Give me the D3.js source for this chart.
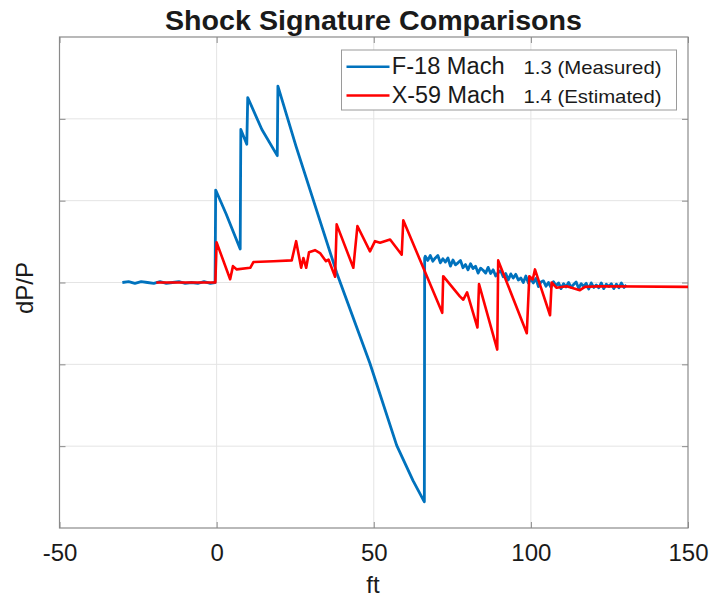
<!DOCTYPE html>
<html>
<head>
<meta charset="utf-8">
<script src="https://cdn.jsdelivr.net/npm/d3@7"></script>
<style>
  html, body { margin: 0; padding: 0; background: #fff; }
  svg text { font-family: "Liberation Sans", Arial, Helvetica, sans-serif; fill: #1a1a1a; }
</style>
</head>
<body>
<svg id="chart" width="713" height="598"></svg>
<script>
// ---------------- data ----------------
const xTicks = [-50, 0, 50, 100, 150];
const xTickLabels = ["-50", "0", "50", "100", "150"];
const yTicks = [-2, -1, 0, 1, 2];

// F-18 Mach 1.3 (Measured): ft
const f18X = [-30, -28, -26, -24, -22, -20, -18, -16, -14, -12, -10, -8, -6, -4, -2, -0.5,
  -0.3, 3.0, 5.2, 7.5, 7.7, 9.6, 9.9, 14.4, 19.3, 19.5, 25.3, 38.2, 48.8, 57.3, 62.5, 66.1,
  66.2,
  66.4, 67.2, 68.0, 68.8, 69.6, 70.4, 71.2, 72.0, 72.8, 73.6,
  74.4, 75.2, 76.0, 76.8, 77.6, 78.4, 79.2, 80.0, 80.8, 81.6,
  82.4, 83.2, 84.0, 84.8, 85.6, 86.4, 87.2, 88.0, 88.8, 89.6,
  90.4, 91.2, 92.0, 92.8, 93.6, 94.4, 95.2, 96.0, 96.8, 97.6,
  98.4, 99.2, 100.0, 100.8, 101.6, 102.4, 103.2, 104.0, 104.8, 105.6,
  106.4, 107.2, 108.0, 108.8, 109.6, 110.4, 111.2, 112.0, 112.8, 113.6,
  114.4, 115.2, 116.0, 116.8, 117.6, 118.4, 119.2, 120.0, 120.8, 121.6,
  122.4, 123.2, 124.0, 124.8, 125.6, 126.4, 127.2, 128.0, 128.8, 129.6,
  130.4];
// F-18 dP/P (grid units)
const f18Y = [0.0, 0.01, -0.01, 0.01, 0.0, -0.01, 0.01, -0.01, 0.0, 0.01, -0.01, 0.0, -0.01, 0.01, -0.01, 0.0,
  1.13, 0.84, 0.63, 0.41, 1.87, 1.69, 2.26, 1.87, 1.55, 2.40, 1.66, 0.12, -0.99, -1.99, -2.42, -2.68,
  0.30,
  0.32, 0.27, 0.33, 0.26, 0.30, 0.33, 0.24, 0.29, 0.25, 0.30,
  0.20, 0.275, 0.215, 0.24, 0.27, 0.18, 0.22, 0.155, 0.23, 0.17,
  0.20, 0.115, 0.175, 0.15, 0.115, 0.185, 0.11, 0.155, 0.08, 0.12,
  0.145, 0.07, 0.11, 0.03, 0.105, 0.055, 0.10, 0.03, 0.055, 0.00,
  0.08, -0.005, 0.04, -0.005, 0.05, -0.05, 0.005, 0.02, -0.045, 0.0,
  -0.06, 0.01, -0.04, -0.005, -0.075, -0.015, -0.055, 0.0, -0.06, -0.025,
  0.005, -0.07, -0.015, -0.045, -0.01, -0.08, -0.005, -0.06, -0.03, -0.065,
  -0.005, -0.075, -0.02, -0.05, -0.015, -0.075, -0.02, -0.065, -0.005, -0.06,
  -0.03];

// X-59 Mach 1.4 (Estimated): ft
const x59X = [-19.2, -0.4, 0.0, 4.3, 5.2, 6.4, 10.7, 11.7, 18.1, 23.9, 25.3, 26.9, 27.6, 28.5,
  29.4, 31.3, 32.9, 34.8, 35.6, 37.7, 38.2, 43.5, 44.8, 48.8, 50.4, 52.0, 55.2, 58.9, 59.4,
  71.8, 72.1, 77.4, 78.5, 79.7, 83.0, 83.5, 89.3, 89.6, 98.7, 99.5, 100.6, 101.3, 106.1,
  106.6, 108.2, 111.4, 115.6, 117.2, 122.0, 150.0];
// X-59 dP/P (grid units)
const x59Y = [0.0, 0.0, 0.49, 0.04, 0.20, 0.16, 0.18, 0.25, 0.26, 0.27, 0.505, 0.18, 0.30, 0.18,
  0.37, 0.395, 0.36, 0.26, 0.28, 0.07, 0.71, 0.18, 0.69, 0.38, 0.505, 0.486, 0.526, 0.34, 0.76,
  -0.37, 0.077, -0.17, -0.21, -0.12, -0.55, -0.02, -0.82, 0.27, -0.62, 0.077, 0.037, 0.16, -0.40,
  0.0, -0.065, -0.045, -0.094, -0.053, -0.045, -0.053];

const seriesNames = ["F-18 Mach", "X-59 Mach"];
const seriesNotes = ["1.3 (Measured)", "1.4 (Estimated)"];
const seriesColors = ["#0072BD", "#FF0000"];

// ---------------- layout ----------------
const svg = d3.select("#chart");
const L = 59.5, R = 688, T = 37, B = 528;
const x = d3.scaleLinear().domain([-50, 150]).range([L, R]);
const y = d3.scaleLinear().domain([-3, 3]).range([B, T]);

// grid
const g = svg.append("g");
g.selectAll(".vg").data(xTicks.slice(1, -1)).enter().append("line")
  .attr("x1", d => x(d)).attr("x2", d => x(d)).attr("y1", T).attr("y2", B)
  .attr("stroke", "#e4e4e4").attr("stroke-width", 1);
g.selectAll(".hg").data(yTicks).enter().append("line")
  .attr("x1", L).attr("x2", R).attr("y1", d => y(d)).attr("y2", d => y(d))
  .attr("stroke", "#e4e4e4").attr("stroke-width", 1);

// axes (ticks inward, no y labels)
const axisColor = "#8a8a8a";
const xAxis = svg.append("g").attr("transform", `translate(0,${B})`)
  .call(d3.axisBottom(x).tickValues(xTicks).tickSize(-6)
    .tickFormat((d, i) => xTickLabels[i]));
const xAxisTop = svg.append("g").attr("transform", `translate(0,${T})`)
  .call(d3.axisTop(x).tickValues(xTicks).tickSize(-6).tickFormat(""));
const yAxis = svg.append("g").attr("transform", `translate(${L},0)`)
  .call(d3.axisLeft(y).tickValues(yTicks).tickSize(-6).tickFormat(""));
const yAxisR = svg.append("g").attr("transform", `translate(${R},0)`)
  .call(d3.axisRight(y).tickValues(yTicks).tickSize(-6).tickFormat(""));
[xAxis, xAxisTop, yAxis, yAxisR].forEach(a => {
  a.select(".domain").remove();
  a.selectAll(".tick line").attr("stroke", axisColor);
});
xAxis.selectAll(".tick text").attr("font-size", "24px").attr("fill", "#1a1a1a")
  .attr("dy", 0).attr("y", 33)
  .style("font-family", "'Liberation Sans', Arial, sans-serif");

// box
svg.append("rect").attr("x", L).attr("y", T).attr("width", R - L).attr("height", B - T)
  .attr("fill", "none").attr("stroke", axisColor).attr("stroke-width", 1.2);

// lines
svg.append("clipPath").attr("id", "clip").append("rect")
  .attr("x", L).attr("y", T).attr("width", R - L).attr("height", B - T);
const line = d3.line().x(d => x(d[0])).y(d => y(d[1]));
const f18 = f18X.map((v, i) => [v, f18Y[i]]);
const x59 = x59X.map((v, i) => [v, x59Y[i]]);
const lines = svg.append("g").attr("clip-path", "url(#clip)");
lines.append("path").datum(f18).attr("d", line).attr("fill", "none")
  .attr("stroke", seriesColors[0]).attr("stroke-width", 2.8).attr("stroke-linejoin", "round");
lines.append("path").datum(x59).attr("d", line).attr("fill", "none")
  .attr("stroke", seriesColors[1]).attr("stroke-width", 2.6).attr("stroke-linejoin", "round");

// title
svg.append("text").attr("x", 165).attr("y", 29.5)
  .attr("font-size", "27px").attr("font-weight", "bold").attr("fill", "#000")
  .attr("textLength", 417).attr("lengthAdjust", "spacingAndGlyphs")
  .text("Shock Signature Comparisons");

// axis labels
svg.append("text").attr("x", 373).attr("y", 593).attr("text-anchor", "middle")
  .attr("font-size", "24px").text("ft");
svg.append("text").attr("transform", "translate(33,288) rotate(-90)")
  .attr("text-anchor", "middle").attr("font-size", "24px").text("dP/P");

// legend
const lg = svg.append("g");
lg.append("rect").attr("x", 341.5).attr("y", 50).attr("width", 335).attr("height", 60)
  .attr("fill", "#fff").attr("stroke", "#9a9a9a").attr("stroke-width", 1);
const rowsY = [66.7, 95.5];
const baseY = [74.3, 103.3];
seriesNames.forEach((name, i) => {
  lg.append("line").attr("x1", 346.5).attr("x2", 389.5).attr("y1", rowsY[i]).attr("y2", rowsY[i])
    .attr("stroke", seriesColors[i]).attr("stroke-width", 2.6);
  lg.append("text").attr("x", 391.7).attr("y", baseY[i]).attr("font-size", "23.5px")
    .attr("textLength", 113).attr("lengthAdjust", "spacingAndGlyphs").text(name);
  lg.append("text").attr("x", 523.5).attr("y", baseY[i]).attr("font-size", "19px")
    .attr("textLength", 138).attr("lengthAdjust", "spacingAndGlyphs").text(seriesNotes[i]);
});
</script>
</body>
</html>
